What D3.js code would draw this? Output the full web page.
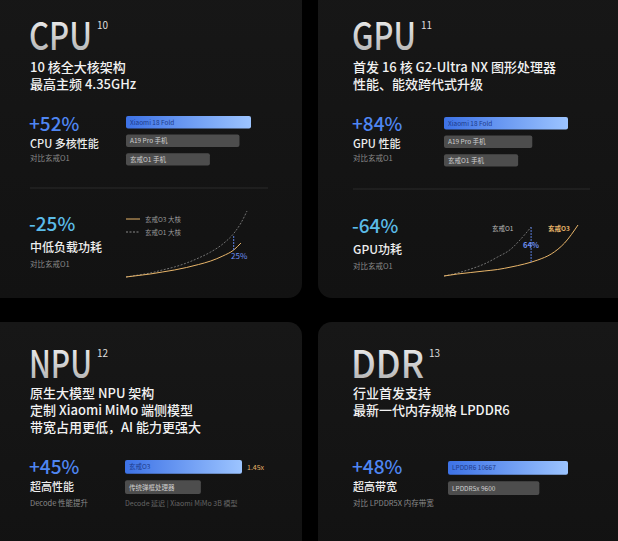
<!DOCTYPE html>
<html><head><meta charset="utf-8">
<script src="https://cdn.jsdelivr.net/npm/d3@7"></script>
<style>body{margin:0;background:#000}svg{display:block}text{font-family:"Noto Sans CJK SC","Noto Sans",sans-serif}</style>
</head><body>
<svg id="c" width="618" height="541"></svg>
<script>
// bar data per panel: label, value (relative)
var cpuBars = [["Xiaomi 18 Fold", 1.52], ["A19 Pro 手机", 1.38], ["玄戒O1 手机", 1.02]];
var gpuBars = [["Xiaomi 18 Fold", 1.84], ["A19 Pro 手机", 1.31], ["玄戒O1 手机", 1.1]];
var npuBars = [["玄戒O3", 1.45], ["传统弹框处理器", 0.94]];
var ddrBars = [["LPDDR6 10667", 10667], ["LPDDR5x 9600", 9600]];
// power curves: [perf, power]
var cpuO1 = [[0,0],[1,2],[2,4],[3,7],[4,10],[5,14],[6,19],[7,25],[8,33],[9,45],[9.5,54],[10,66]];
var cpuO3 = [[0,0],[1,1.5],[2,3],[3,5],[4,7],[5,9.5],[6,12.5],[7,16],[8,21],[8.9,27],[9.5,34]];
var gpuO1 = [[0,0],[1,3],[2,7],[3,12],[4,19],[5,27],[5.6,35],[6,41],[6.5,49]];
var gpuO3 = [[0,0],[1,2],[2,3.5],[3,5],[4,6.5],[5,9],[6,12],[7,16],[8,22],[9,33],[10,51]];

var svg = d3.select("#c");
var defs = svg.append("defs");
var g1 = defs.append("linearGradient").attr("id","blue");
g1.append("stop").attr("offset","0").attr("stop-color","#3d72e6");
g1.append("stop").attr("offset","1").attr("stop-color","#9cc4ff");
var g2 = defs.append("linearGradient").attr("id","ttl").attr("x1",0).attr("y1",0).attr("x2",0).attr("y2",1);
g2.append("stop").attr("offset","0").attr("stop-color","#ffffff");
g2.append("stop").attr("offset","1").attr("stop-color","#a8a8a8");
var g3 = defs.append("linearGradient").attr("id","pan").attr("x1",0).attr("y1",0).attr("x2",0).attr("y2",1);
g3.append("stop").attr("offset","0").attr("stop-color","#171717");
g3.append("stop").attr("offset","1").attr("stop-color","#121212");

var panels = [[-20,-20,322,318],[318,-20,320,318],[-20,322,322,240],[318,322,320,240]];
svg.selectAll("rect.p").data(panels).join("rect")
  .attr("x",d=>d[0]).attr("y",d=>d[1]).attr("width",d=>d[2]).attr("height",d=>d[3])
  .attr("rx",14).attr("fill","url(#pan)");

function txt(x,y,s,size,fill,w,anchor){
  return svg.append("text").attr("x",x).attr("y",y).text(s).attr("font-size",size)
    .attr("fill",fill).attr("font-weight",w||400).attr("text-anchor",anchor||"start");
}
function title(x,y,s,sup,width){
  svg.append("text").attr("x",x).attr("y",y).attr("font-family","Inter,sans-serif")
    .attr("font-size",38).attr("font-weight",500).attr("fill","url(#ttl)")
    .attr("textLength",width).attr("lengthAdjust","spacingAndGlyphs").text(s);
  svg.append("text").attr("x",x+width+5).attr("y",y-21).attr("font-family","Inter,sans-serif")
    .attr("font-size",10).attr("fill","#ddd").text(sup);
}
function bars(x0,x1,y0,data,h,gap,dmin){
  var x = d3.scaleLinear().domain([dmin||0,d3.max(data,d=>d[1])]).range([0,x1-x0]);
  var y = d3.scaleBand().domain(data.map(d=>d[0])).range([y0,y0+data.length*(h+gap)]).paddingInner(gap/(h+gap)).paddingOuter(0);
  var gg = svg.append("g");
  gg.selectAll("rect").data(data).join("rect").attr("x",x0).attr("y",d=>y(d[0]))
    .attr("width",d=>x(d[1])).attr("height",y.bandwidth()).attr("rx",2)
    .attr("fill",(d,i)=>i==0?"url(#blue)":"#4d4d4d");
  gg.selectAll("text").data(data).join("text").attr("x",x0+4).attr("y",d=>y(d[0])+y.bandwidth()/2+2.5)
    .attr("font-size",6.5).attr("fill",(d,i)=>i==0?"#1d3b8a":"#cfcfcf").text(d=>d[0]);
  return {x:x,y:y};
}
function curves(x0,x1,yb,pxPerUnit,o1,o3,xmax){
  var x = d3.scaleLinear().domain([0,xmax]).range([x0,x1]);
  var y = d3.scaleLinear().domain([0,1]).range([yb,yb-pxPerUnit]);
  var line = d3.line().x(d=>x(d[0])).y(d=>y(d[1])).curve(d3.curveMonotoneX);
  svg.append("path").attr("d",line(o1)).attr("fill","none").attr("stroke","#8a8a8a").attr("stroke-width",0.8).attr("stroke-dasharray","2,1.5");
  svg.append("path").attr("d",line(o3)).attr("fill","none").attr("stroke","#e8b56a").attr("stroke-width",1);
  return {x:x,y:y};
}
var blue="#4f86f2", sky="#5bbce8", gray="#8a8a8a";

// CPU
title(29,50,"CPU","10",63);
txt(30,72,"10 核全大核架构",13,"#f2f2f2",500);
txt(30,89,"最高主频 4.35GHz",13,"#f2f2f2",500);
txt(29,131,"+52%",19,blue,500);
txt(30,148,"CPU 多核性能",11,"#eee",500);
txt(30,161,"对比玄戒O1",7.5,gray);
bars(126,251,116,cpuBars,11,5.5);
svg.append("line").attr("x1",30).attr("x2",268).attr("y1",188).attr("y2",188).attr("stroke","#2a2a2a");
txt(29,231,"-25%",19,sky,500);
txt(30,252,"中低负载功耗",12,"#eee",500);
txt(30,267,"对比玄戒O1",7.5,gray);
svg.append("line").attr("x1",126).attr("x2",140).attr("y1",219).attr("y2",219).attr("stroke","#e8b56a");
svg.append("line").attr("x1",126).attr("x2",140).attr("y1",232).attr("y2",232).attr("stroke","#8a8a8a").attr("stroke-dasharray","2,1.5");
txt(145,222,"玄戒O3 大核",6.5,"#999");
txt(145,235,"玄戒O1 大核",6.5,"#999");
var cc = curves(126,247,277,1,cpuO1,cpuO3,10);
svg.append("line").attr("x1",cc.x(8.9)).attr("x2",cc.x(8.9)).attr("y1",cc.y(41)).attr("y2",cc.y(27)).attr("stroke","#5a7fe0").attr("stroke-dasharray","2,1");
txt(231,259,"25%",8,"#6c8ff0");

// GPU
title(352,50,"GPU","11",64);
txt(353,72,"首发 16 核 G2-Ultra NX 图形处理器",13,"#f2f2f2",500);
txt(353,89,"性能、能效跨代式升级",13,"#f2f2f2",500);
txt(352,131,"+84%",19,blue,500);
txt(353,148,"GPU 性能",11,"#eee",500);
txt(353,161,"对比玄戒O1",7.5,gray);
bars(444,568,117,gpuBars,11,5.5);
svg.append("line").attr("x1",353).attr("x2",590).attr("y1",189).attr("y2",189).attr("stroke","#2a2a2a");
txt(352,233,"-64%",19,sky,500);
txt(353,254,"GPU功耗",12,"#eee",500);
txt(353,269,"对比玄戒O1",7.5,gray);
var gc = curves(444,578,276,1,gpuO1,gpuO3,10);
svg.append("line").attr("x1",gc.x(6.5)).attr("x2",gc.x(6.5)).attr("y1",gc.y(49)).attr("y2",gc.y(13)).attr("stroke","#5a7fe0").attr("stroke-dasharray","2,1");
txt(492,231,"玄戒O1",6.5,"#bbb");
txt(548,231,"玄戒O3",6.5,"#e8b56a",600);
txt(523,248,"64%",7.5,"#6c8ff0",600);

// NPU
title(29,378,"NPU","12",63);
txt(30,398,"原生大模型 NPU 架构",13,"#f2f2f2",500);
txt(30,415,"定制 Xiaomi MiMo 端侧模型",13,"#f2f2f2",500);
txt(30,432,"带宽占用更低，AI 能力更强大",13,"#f2f2f2",500);
txt(29,474,"+45%",19,blue,500);
txt(30,491,"超高性能",11,"#eee",500);
txt(30,506,"Decode 性能提升",7.5,gray);
bars(125,242,460,npuBars,11.5,5.5);
txt(247,470,"1.45x",7,"#e8b56a");
txt(125,506,"Decode 延迟 | Xiaomi MiMo 3B 模型",7,"#666");

// DDR
title(351,378,"DDR","13",73);
txt(353,398,"行业首发支持",13,"#f2f2f2",500);
txt(353,415,"最新一代内存规格 LPDDR6",13,"#f2f2f2",500);
txt(352,474,"+48%",19,blue,500);
txt(353,491,"超高带宽",11,"#eee",500);
txt(353,506,"对比 LPDDR5X 内存带宽",7.5,gray);
bars(448,568,461,ddrBars,11.5,5.5,6200);
</script>
</body></html>
